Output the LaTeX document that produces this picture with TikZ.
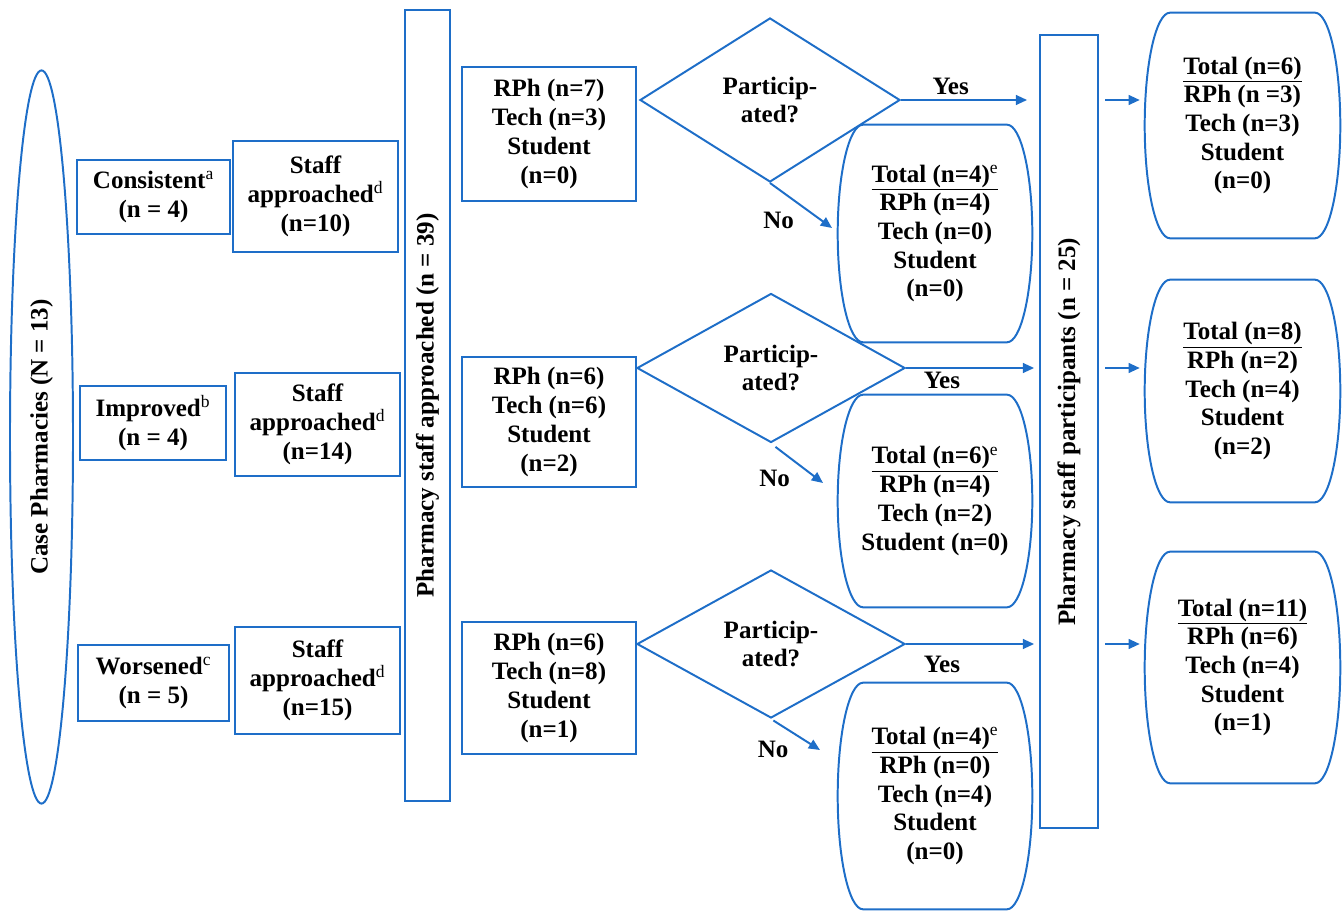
\documentclass[tikz,border=0pt]{standalone}
\usepackage{fontspec}
\setmainfont{Liberation Serif}
\usetikzlibrary{shapes.geometric,arrows.meta,calc}
\definecolor{flowblue}{RGB}{30,110,200}
%% rounded "barrel" outline around a node
\newcommand{\barrel}[1]{%
  \draw[boxdecorate] let \p1=(#1.north west), \p2=(#1.south east) in
    ({\x1+18pt},\y1) -- ({\x2-18pt},\y1)
    arc[start angle=90,end angle=-90,x radius=18pt,y radius={0.5*(\y1-\y2)}]
    -- ({\x1+18pt},\y2)
    arc[start angle=270,end angle=90,x radius=18pt,y radius={0.5*(\y1-\y2)}]
    -- cycle;}
\begin{document}
\begin{tikzpicture}
[x=0.025cm,y=-0.025cm,
 every node/.style={font=\fontsize{17.8}{20.4}\selectfont\bfseries,align=center},
 boxdecorate/.style={draw=flowblue,line width=1.4pt,inner sep=0pt},
 arrowdecorate/.style={draw=flowblue,line width=1.4pt,-{Triangle[length=8pt,width=7pt]}},
 barrelbox/.style={inner sep=0pt,minimum width=4.85cm}]
\useasboundingbox (0,0) rectangle (1344,912);
%% case pharmacies and groups
\node[boxdecorate,ellipse,rotate=90,minimum width=18.325cm,minimum height=1.575cm]
  (case) at (41.5,437) {Case Pharmacies (N = 13)};
\node[boxdecorate,minimum width=3.825cm,minimum height=1.85cm] (cons) at (153.5,197)
  {Consistent\textsuperscript{\mdseries a}\\(n = 4)};
\node[boxdecorate,minimum width=3.65cm,minimum height=1.85cm] (impr) at (153,423)
  {Improved\textsuperscript{\mdseries b}\\(n = 4)};
\node[boxdecorate,minimum width=3.775cm,minimum height=1.9cm] (wors) at (153.5,683)
  {Worsened\textsuperscript{\mdseries c}\\(n = 5)};
%% staff approached
\node[boxdecorate,minimum width=4.125cm,minimum height=2.775cm] (st1) at (315.5,196.5)
  {Staff\\approached\textsuperscript{\mdseries d}\\(n=10)};
\node[boxdecorate,minimum width=4.125cm,minimum height=2.575cm] (st2) at (317.5,424.5)
  {Staff\\approached\textsuperscript{\mdseries d}\\(n=14)};
\node[boxdecorate,minimum width=4.125cm,minimum height=2.675cm] (st3) at (317.5,680.5)
  {Staff\\approached\textsuperscript{\mdseries d}\\(n=15)};
\node[boxdecorate,rotate=90,minimum width=19.775cm,minimum height=1.125cm]
  (appr) at (427.5,405.5) {Pharmacy staff approached (n = 39)};
%% staff by role
\node[boxdecorate,minimum width=4.35cm,minimum height=3.35cm] (r1) at (549,134)
  {RPh (n=7)\\Tech (n=3)\\Student\\(n=0)};
\node[boxdecorate,minimum width=4.35cm,minimum height=3.25cm] (r2) at (549,422)
  {RPh (n=6)\\Tech (n=6)\\Student\\(n=2)};
\node[boxdecorate,minimum width=4.35cm,minimum height=3.3cm] (r3) at (549,688)
  {RPh (n=6)\\Tech (n=8)\\Student\\(n=1)};
%% decisions
\node[boxdecorate,diamond,aspect=1.6,minimum width=6.5cm,minimum height=4.1cm]
  (q1) at (770,100) {Particip-\\ated?};
\node[boxdecorate,diamond,aspect=1.8,minimum width=6.7cm,minimum height=3.725cm]
  (q2) at (771,368) {Particip-\\ated?};
\node[boxdecorate,diamond,aspect=1.8,minimum width=6.7cm,minimum height=3.7cm]
  (q3) at (771,644) {Particip-\\ated?};
%% non participants
\node[barrelbox,minimum height=5.425cm] (no1) at (935,233.5)
  {\underline{Total (n=4)\textsuperscript{\mdseries e}}\\RPh (n=4)\\Tech (n=0)\\Student\\(n=0)};
\node[barrelbox,minimum height=5.3cm] (no2) at (935,501)
  {\underline{Total (n=6)\textsuperscript{\mdseries e}}\\RPh (n=4)\\Tech (n=2)\\Student (n=0)};
\node[barrelbox,minimum height=5.65cm] (no3) at (935,796)
  {\underline{Total (n=4)\textsuperscript{\mdseries e}}\\RPh (n=0)\\Tech (n=4)\\Student\\(n=0)};
\barrel{no1} \barrel{no2} \barrel{no3}
%% participants
\node[boxdecorate,rotate=90,minimum width=19.825cm,minimum height=1.45cm]
  (parts) at (1069,431.5) {Pharmacy staff participants (n = 25)};
\node[barrelbox,minimum width=4.875cm,minimum height=5.625cm] (tot1) at (1242.5,125.5)
  {\underline{Total (n=6)}\\RPh (n =3)\\Tech (n=3)\\Student\\(n=0)};
\node[barrelbox,minimum width=4.875cm,minimum height=5.55cm] (tot2) at (1242.5,391)
  {\underline{Total (n=8)}\\RPh (n=2)\\Tech (n=4)\\Student\\(n=2)};
\node[barrelbox,minimum width=4.875cm,minimum height=5.775cm] (tot3) at (1242.5,667.5)
  {\underline{Total (n=11)}\\RPh (n=6)\\Tech (n=4)\\Student\\(n=1)};
\barrel{tot1} \barrel{tot2} \barrel{tot3}
%% yes arrows
\draw[arrowdecorate,shorten >=8.5pt] (q1.east) -- (parts.north |- q1.east)
  node[pos=0.36,above,inner sep=3pt] (yes1) {Yes};
\draw[arrowdecorate,shorten >=3.5pt] (q2.east) -- (parts.north |- q2.east)
  node[pos=0.27,below,inner sep=2pt] (yes2) {Yes};
\draw[arrowdecorate,shorten >=3.5pt] (q3.east) -- (parts.north |- q3.east)
  node[pos=0.27,below,inner sep=8pt] (yes3) {Yes};
%% no arrows
\coordinate (n1) at (832,228);
\coordinate (n2) at (823,483);
\coordinate (n3) at (820,750);
\draw[arrowdecorate] (q1.south) -- (n1) node[pos=0.5,below left=1pt] (nol1) {No};
\draw[arrowdecorate,shorten <=4pt] (q2.south) -- (n2) node[pos=0.5,below left=1pt] (nol2) {No};
\draw[arrowdecorate,shorten <=2pt] (q3.south) -- (n3) node[pos=0.5,below left=1pt] (nol3) {No};
%% to totals
\foreach \q/\t in {q1/tot1,q2/tot2,q3/tot3}
  \draw[arrowdecorate,shorten <=4.3pt,shorten >=3.5pt] (parts.south |- \q.east) -- (\t.west |- \q.east);
\end{tikzpicture}
\end{document}
